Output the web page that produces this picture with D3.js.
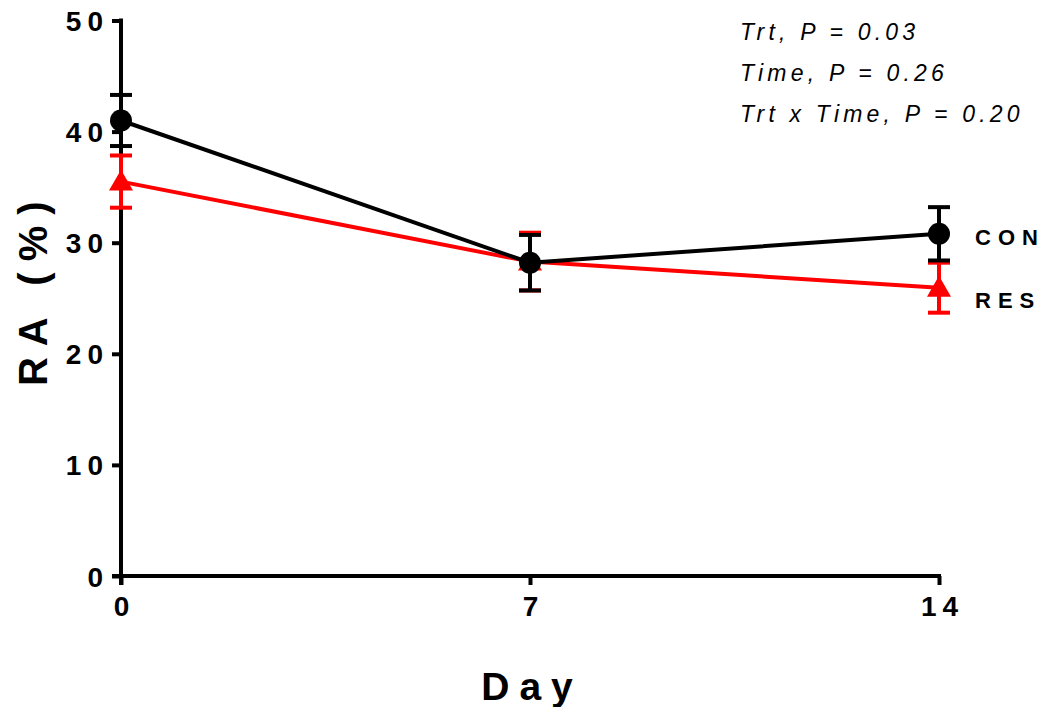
<!DOCTYPE html>
<html>
<head>
<meta charset="utf-8">
<script src="https://cdn.jsdelivr.net/npm/d3@7"></script>
<style>
  html, body { margin: 0; padding: 0; background: #fff; }
  svg { display: block; }
  text { font-family: "Liberation Sans", Arial, sans-serif; }
</style>
</head>
<body>
<svg id="chart" width="1049" height="707"></svg>
<script>
// Sampling days
const days = [0, 7, 14];
// Group means (%)
const conMean = [41.0, 28.2, 30.8];
const resMean = [35.5, 28.3, 25.95];
// Standard errors
const conErr = [2.3, 2.5, 2.4];
const resErr = [2.35, 2.6, 2.25];
// Axis ticks
const yTicks = [0, 10, 20, 30, 40, 50];
const xTicks = [0, 7, 14];
// Statistics annotation
const statLines = ["Trt, P = 0.03", "Time, P = 0.26", "Trt x Time, P = 0.20"];

const svg = d3.select("#chart");
const x = d3.scaleLinear().domain([0, 14]).range([121, 939]);
const y = d3.scaleLinear().domain([0, 50]).range([576, 20.5]);

// Axes
const yAxis = d3.axisLeft(y).tickValues(yTicks).tickSize(9).tickPadding(9);
const xAxis = d3.axisBottom(x).tickValues(xTicks).tickSize(9).tickPadding(11);

const gy = svg.append("g").attr("transform", `translate(${x(0)},0)`).call(yAxis);
const gx = svg.append("g").attr("transform", `translate(0,${y(0)})`).call(xAxis);

[gx, gy].forEach(g => {
  g.select(".domain").remove();
  g.selectAll(".tick line").attr("stroke", "#000").attr("stroke-width", 4);
  g.selectAll(".tick text")
    .attr("fill", "#000")
    .style("font-size", "28px")
    .style("font-weight", "bold")
    .style("letter-spacing", "6px");
});
gy.selectAll(".tick text").attr("dx", 6).attr("dy", "0.36em");
gx.selectAll(".tick text").attr("dx", 3).attr("dy", "0.72em");

// axis lines
svg.append("line")
  .attr("x1", x(0)).attr("x2", x(0))
  .attr("y1", y(0) + 9).attr("y2", y(50) - 2)
  .attr("stroke", "#000").attr("stroke-width", 4);
svg.append("line")
  .attr("x1", x(0) - 9).attr("x2", x(14) + 2)
  .attr("y1", y(0)).attr("y2", y(0))
  .attr("stroke", "#000").attr("stroke-width", 4);

// Axis titles
svg.append("text")
  .attr("transform", `translate(47,${(y(0) + y(50)) / 2 - 10}) rotate(-90)`)
  .attr("text-anchor", "middle")
  .style("font-size", "40px").style("font-weight", "bold")
  .style("letter-spacing", "11px")
  .text("RA (%)");
svg.append("text")
  .attr("x", 532).attr("y", 700)
  .attr("text-anchor", "middle")
  .style("font-size", "39px").style("font-weight", "bold")
  .style("letter-spacing", "10px")
  .text("Day");

// Series
const series = [
  { name: "RES", color: "#ff0000", mean: resMean, err: resErr, shape: "triangle" },
  { name: "CON", color: "#000000", mean: conMean, err: conErr, shape: "circle" }
];

const line = d3.line().x(d => x(d[0])).y(d => y(d[1]));

series.forEach(s => {
  const pts = days.map((d, i) => [d, s.mean[i], s.err[i]]);
  const g = svg.append("g");
  g.append("path")
    .datum(pts)
    .attr("d", line)
    .attr("fill", "none")
    .attr("stroke", s.color)
    .attr("stroke-width", 4);

  // error bars
  const eb = g.selectAll(".eb").data(pts).enter().append("g");
  eb.append("line")
    .attr("x1", d => x(d[0])).attr("x2", d => x(d[0]))
    .attr("y1", d => y(d[1] + d[2])).attr("y2", d => y(d[1] - d[2]))
    .attr("stroke", s.color).attr("stroke-width", 4);
  [1, -1].forEach(sign => {
    eb.append("line")
      .attr("x1", d => x(d[0]) - 11).attr("x2", d => x(d[0]) + 11)
      .attr("y1", d => y(d[1] + sign * d[2])).attr("y2", d => y(d[1] + sign * d[2]))
      .attr("stroke", s.color).attr("stroke-width", 4);
  });

  // markers
  const sym = s.shape === "circle"
    ? d3.symbol().type(d3.symbolCircle).size(Math.PI * 11 * 11)
    : d3.symbol().type(d3.symbolTriangle).size(250);
  g.selectAll(".mk").data(pts).enter().append("path")
    .attr("d", sym)
    .attr("transform", d => `translate(${x(d[0])},${y(d[1]) + (s.shape === "triangle" ? 2 : 0)})`)
    .attr("fill", s.color);

  // series label at the last point
  const last = pts[pts.length - 1];
  svg.append("text")
    .attr("x", x(last[0]) + 36)
    .attr("y", y(last[1]) + (s.name === "CON" ? 11 : 20))
    .style("font-size", "22px").style("font-weight", "bold")
    .style("letter-spacing", "7px")
    .text(s.name);
});

// Statistics
svg.append("g").selectAll("text").data(statLines).enter().append("text")
  .attr("x", 740)
  .attr("y", (d, i) => 40 + i * 41)
  .style("font-size", "23px").style("font-style", "italic")
  .style("letter-spacing", "4.2px")
  .text(d => d);
</script>
</body>
</html>
